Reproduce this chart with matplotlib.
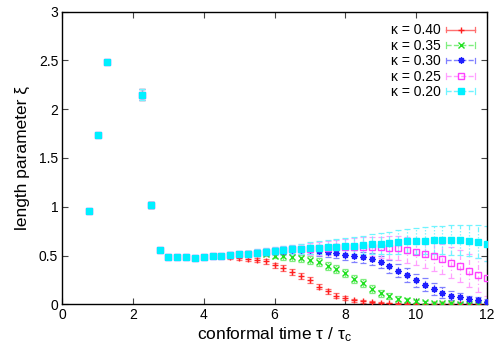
import matplotlib
matplotlib.use("Agg")
import matplotlib.pyplot as plt
from matplotlib.lines import Line2D
from matplotlib.legend_handler import HandlerBase

plt.rcParams['font.family'] = ['Liberation Sans', 'DejaVu Sans']
plt.rcParams['mathtext.fontset'] = 'custom'
plt.rcParams['mathtext.rm'] = 'Liberation Sans'
plt.rcParams['mathtext.it'] = 'Liberation Sans'

# ---------------- data ----------------
x = [0.75, 1.0, 1.25, 2.25, 2.5, 2.75,
     3.0, 3.25, 3.5, 3.75, 4.0, 4.25, 4.5, 4.75, 5.0, 5.25, 5.5, 5.75,
     6.0, 6.25, 6.5, 6.75, 7.0, 7.25, 7.5, 7.75, 8.0, 8.25, 8.5, 8.75,
     9.0, 9.25, 9.5, 9.75, 10.0, 10.25, 10.5, 10.75, 11.0, 11.25, 11.5,
     11.75, 12.0]

early = [0.96, 1.74, 2.48, 2.15, 1.02, 0.56]
early_err = [0.01, 0.01, 0.01, 0.06, 0.03, 0.01]

xi_040 = early + [0.485, 0.485, 0.485, 0.475, 0.485, 0.49, 0.49, 0.48, 0.475, 0.465, 0.455, 0.44,
                  0.40, 0.37, 0.335, 0.29, 0.245, 0.18, 0.135, 0.09, 0.06, 0.04, 0.03, 0.02,
                  0.015, 0.01, 0.008, 0.006, 0.005, 0.005, 0.004, 0.004, 0.003, 0.003, 0.003,
                  0.003, 0.003]
err_040 = early_err + [0.01, 0.01, 0.01, 0.01, 0.012, 0.014, 0.016, 0.018, 0.02, 0.022, 0.024, 0.026,
                       0.028, 0.03, 0.03, 0.03, 0.03, 0.028, 0.025, 0.022, 0.02, 0.015, 0.012, 0.01,
                       0.008, 0.006, 0.005, 0.004, 0.004, 0.003, 0.003, 0.003, 0.003, 0.003, 0.003,
                       0.003, 0.003]

xi_035 = early + [0.485, 0.485, 0.485, 0.475, 0.485, 0.495, 0.50, 0.51, 0.515, 0.52, 0.525, 0.52,
                  0.50, 0.49, 0.48, 0.47, 0.455, 0.43, 0.395, 0.36, 0.32, 0.26, 0.215, 0.155,
                  0.113, 0.085, 0.055, 0.04, 0.03, 0.02, 0.015, 0.012, 0.01, 0.008, 0.006,
                  0.005, 0.004]
err_035 = early_err + [0.01, 0.01, 0.01, 0.01, 0.012, 0.014, 0.016, 0.018, 0.02, 0.022, 0.025, 0.028,
                       0.03, 0.032, 0.035, 0.037, 0.04, 0.04, 0.042, 0.042, 0.042, 0.04, 0.04, 0.038,
                       0.035, 0.03, 0.025, 0.02, 0.018, 0.015, 0.012, 0.01, 0.01, 0.008, 0.008,
                       0.006, 0.006]

xi_030 = early + [0.485, 0.485, 0.485, 0.475, 0.485, 0.495, 0.50, 0.51, 0.515, 0.52, 0.53, 0.54,
                  0.545, 0.55, 0.555, 0.56, 0.56, 0.545, 0.535, 0.525, 0.51, 0.495, 0.48, 0.46,
                  0.435, 0.39, 0.345, 0.30, 0.245, 0.20, 0.155, 0.12, 0.09, 0.07, 0.05,
                  0.04, 0.025]
err_030 = early_err + [0.01, 0.01, 0.01, 0.012, 0.014, 0.016, 0.018, 0.02, 0.022, 0.025, 0.028, 0.03,
                       0.033, 0.036, 0.04, 0.042, 0.045, 0.048, 0.05, 0.052, 0.055, 0.058, 0.06, 0.062,
                       0.065, 0.068, 0.07, 0.07, 0.07, 0.065, 0.06, 0.055, 0.05, 0.045, 0.04,
                       0.035, 0.03]

xi_025 = early + [0.485, 0.485, 0.485, 0.475, 0.485, 0.495, 0.50, 0.51, 0.515, 0.52, 0.53, 0.54,
                  0.545, 0.555, 0.563, 0.568, 0.57, 0.575, 0.58, 0.585, 0.59, 0.59, 0.59, 0.59,
                  0.585, 0.58, 0.575, 0.557, 0.54, 0.516, 0.49, 0.462, 0.427, 0.39, 0.345,
                  0.30, 0.267]
err_025 = early_err + [0.01, 0.01, 0.01, 0.012, 0.015, 0.018, 0.02, 0.023, 0.026, 0.03, 0.033, 0.036,
                       0.04, 0.045, 0.05, 0.055, 0.06, 0.065, 0.07, 0.075, 0.08, 0.09, 0.095, 0.10,
                       0.11, 0.12, 0.125, 0.13, 0.14, 0.145, 0.15, 0.155, 0.16, 0.165, 0.17,
                       0.175, 0.18]

xi_020 = early + [0.485, 0.485, 0.485, 0.475, 0.485, 0.495, 0.50, 0.51, 0.515, 0.52, 0.53, 0.54,
                  0.545, 0.555, 0.563, 0.568, 0.575, 0.581, 0.585, 0.592, 0.595, 0.602, 0.609, 0.616,
                  0.622, 0.629, 0.64, 0.647, 0.65, 0.653, 0.66, 0.66, 0.66, 0.657, 0.65,
                  0.64, 0.622]
err_020 = early_err + [0.01, 0.01, 0.01, 0.012, 0.015, 0.018, 0.02, 0.023, 0.026, 0.03, 0.033, 0.036,
                       0.04, 0.045, 0.05, 0.055, 0.06, 0.065, 0.07, 0.075, 0.08, 0.09, 0.095, 0.10,
                       0.105, 0.11, 0.12, 0.125, 0.13, 0.135, 0.14, 0.145, 0.15, 0.155, 0.16,
                       0.17, 0.18]

labels = ['κ = 0.40', 'κ = 0.35', 'κ = 0.30', 'κ = 0.25', 'κ = 0.20']
xticks = [0, 2, 4, 6, 8, 10, 12]
yticks = [0, 0.5, 1, 1.5, 2, 2.5, 3]
ytick_labels = ['0', '0.5', '1', '1.5', '2', '2.5', '3']

# ---------------- style ----------------
series = [
    (xi_040, err_040, dict(color='#ff2020', ecolor='#ff7070', marker='+', mfc='#ff2020', ls='-')),
    (xi_035, err_035, dict(color='#20e020', ecolor='#80ee80', marker='x', mfc='#20e020', ls=(0, (3, 2)))),
    (xi_030, err_030, dict(color='#2020ff', ecolor='#8080ff', marker=(8, 2, 0), mfc='#2020ff', ls=(0, (1, 1.5)))),
    (xi_025, err_025, dict(color='#ff40ff', ecolor='#ffa0ff', marker='s', mfc='none', ls=(0, (4, 2, 1, 2)))),
    (xi_020, err_020, dict(color='#00f0ff', ecolor='#70f4ff', marker='s', mfc='#00f0ff', ls=(0, (4, 1.5, 1, 1.5, 1, 1.5)))),
]

fig = plt.figure(figsize=(5, 3.5), dpi=100)
ax = fig.add_axes([0.1246, 0.1306, 0.8488, 0.836])

handles = []
for (vals, errs, st), lab in zip(series, labels):
    eb = ax.errorbar(x, vals, yerr=errs, fmt='none', ecolor=st['ecolor'], elinewidth=0.9,
                     capsize=2.2, capthick=0.9, zorder=2)
    eb[2][0].set_linestyle(st['ls'])
    ax.plot(x, vals, linestyle='none', marker=st['marker'], markersize=4.6,
            markerfacecolor=st['mfc'], markeredgecolor=st['color'], markeredgewidth=1.0, zorder=3)
    h = Line2D([], [], color=st['ecolor'], linestyle=st['ls'], linewidth=1.0,
               marker=st['marker'], markersize=4.6, markerfacecolor=st['mfc'],
               markeredgecolor=st['color'], markeredgewidth=1.0)
    handles.append(h)


class GPHandler(HandlerBase):
    def create_artists(self, legend, orig, xdescent, ydescent, width, height, fontsize, trans):
        y = height / 2.0 - ydescent
        x0, x1 = -xdescent, -xdescent + width
        line = Line2D([x0, x1], [y, y], color=orig.get_color(), linestyle=orig.get_linestyle(),
                      linewidth=orig.get_linewidth(), transform=trans)
        c = height * 0.28
        capl = Line2D([x0, x0], [y - c, y + c], color=orig.get_color(), lw=0.9, transform=trans)
        capr = Line2D([x1, x1], [y - c, y + c], color=orig.get_color(), lw=0.9, transform=trans)
        mk = Line2D([(x0 + x1) / 2], [y], linestyle='none', marker=orig.get_marker(),
                    markersize=orig.get_markersize(), markerfacecolor=orig.get_markerfacecolor(),
                    markeredgecolor=orig.get_markeredgecolor(),
                    markeredgewidth=orig.get_markeredgewidth(), transform=trans)
        return [line, capl, capr, mk]


ax.legend(handles, labels, handler_map={Line2D: GPHandler()}, loc='upper right',
          frameon=False, markerfirst=False, fontsize=10, handlelength=2.05,
          labelspacing=0.1, handletextpad=0.4, borderaxespad=0.55, borderpad=0.3)

ax.set_xlim(0, 12)
ax.set_ylim(0, 3)
ax.set_xticks(xticks)
ax.set_xticklabels([str(t) for t in xticks])
ax.set_yticks(yticks)
ax.set_yticklabels(ytick_labels)
ax.tick_params(direction='in', length=4.5, width=0.8, top=True, right=True,
               labelsize=10, pad=3, color='#444444')
for s in ax.spines.values():
    s.set_linewidth(1.0)
ax.set_xlabel('conformal time τ / τ$_\\mathrm{c}$', fontsize=12.5, labelpad=2)
ax.set_ylabel('length parameter ξ', fontsize=12.5, labelpad=6)

fig.savefig('out.png', dpi=100)
